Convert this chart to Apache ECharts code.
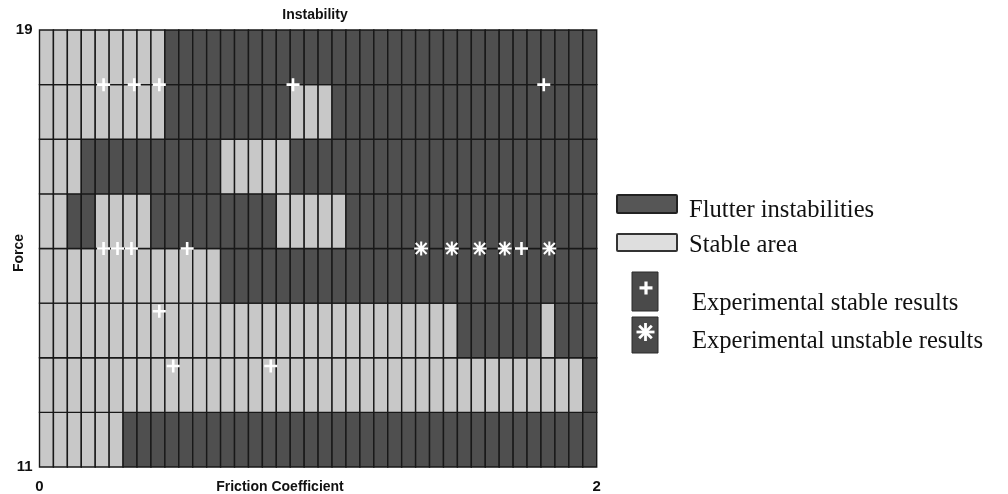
<!DOCTYPE html>
<html>
<head>
<meta charset="utf-8">
<title>Instability</title>
<script src="https://cdn.jsdelivr.net/npm/echarts@6/dist/echarts.min.js"></script>
<style>
  html, body { margin: 0; padding: 0; background: #ffffff; }
  #chart { width: 1008px; height: 494px; }
</style>
</head>
<body>
<div id="chart"></div>
<script>
// Stability map: friction coefficient (x, 0..2, 40 columns) against force (y, 11..19, 8 rows).
// 1 = flutter instability, 0 = stable area. One array per force band, listed from the lowest band up.
const frictionRange = [0, 2];
const forceRange = [11, 19];
const forceBands = [11, 12, 13, 14, 15, 16, 17, 18];

const band11 = [0,0,0,0,0,0,1,1,1,1, 1,1,1,1,1,1,1,1,1,1, 1,1,1,1,1,1,1,1,1,1, 1,1,1,1,1,1,1,1,1,1];
const band12 = [0,0,0,0,0,0,0,0,0,0, 0,0,0,0,0,0,0,0,0,0, 0,0,0,0,0,0,0,0,0,0, 0,0,0,0,0,0,0,0,0,1];
const band13 = [0,0,0,0,0,0,0,0,0,0, 0,0,0,0,0,0,0,0,0,0, 0,0,0,0,0,0,0,0,0,0, 1,1,1,1,1,1,0,1,1,1];
const band14 = [0,0,0,0,0,0,0,0,0,0, 0,0,0,1,1,1,1,1,1,1, 1,1,1,1,1,1,1,1,1,1, 1,1,1,1,1,1,1,1,1,1];
const band15 = [0,0,1,1,0,0,0,0,1,1, 1,1,1,1,1,1,1,0,0,0, 0,0,1,1,1,1,1,1,1,1, 1,1,1,1,1,1,1,1,1,1];
const band16 = [0,0,0,1,1,1,1,1,1,1, 1,1,1,0,0,0,0,0,1,1, 1,1,1,1,1,1,1,1,1,1, 1,1,1,1,1,1,1,1,1,1];
const band17 = [0,0,0,0,0,0,0,0,0,1, 1,1,1,1,1,1,1,1,0,0, 0,1,1,1,1,1,1,1,1,1, 1,1,1,1,1,1,1,1,1,1];
const band18 = [0,0,0,0,0,0,0,0,0,1, 1,1,1,1,1,1,1,1,1,1, 1,1,1,1,1,1,1,1,1,1, 1,1,1,1,1,1,1,1,1,1];
const bandStates = [band11, band12, band13, band14, band15, band16, band17, band18];

// Experimental points
const stableFriction = [0.23, 0.34, 0.43, 0.91, 1.81, 0.23, 0.28, 0.33, 0.53, 1.73, 0.43, 0.48, 0.83];
const stableForce    = [18,   18,   18,   18,   18,   15,   15,   15,   15,   15,   13.85, 12.85, 12.85];
const unstableFriction = [1.37, 1.48, 1.58, 1.67, 1.83];
const unstableForce    = [15,   15,   15,   15,   15];

const yTickLabels = ['11', '19'];
const xTickLabels = ['0', '2'];

const DARK = '#4f4f4f';
const LIGHT = '#c8c8c8';
const EDGE = '#181818';

const columnCount = band11.length;
const columnWidth = (frictionRange[1] - frictionRange[0]) / columnCount;

const cells = [];
bandStates.forEach(function (states, b) {
  states.forEach(function (s, i) {
    cells.push([frictionRange[0] + i * columnWidth, forceBands[b], s]);
  });
});

const stablePoints = stableFriction.map(function (x, i) { return [x, stableForce[i]]; });
const unstablePoints = unstableFriction.map(function (x, i) { return [x, unstableForce[i]]; });

const PLUS = 'path://M8,0H12V8H20V12H12V20H8V12H0V8H8Z';
const STAR = 'path://M0,8.5H20V11.5H0Z M8.5,0H11.5V20H8.5Z M1.2,3.3L3.3,1.2L18.8,16.7L16.7,18.8Z M16.7,1.2L18.8,3.3L3.3,18.8L1.2,16.7Z';

const labelFont = { fontFamily: 'Liberation Sans, Arial, sans-serif', fontWeight: 'bold', fontSize: 14, fill: '#111' };
const legendFont = { fontFamily: 'Liberation Serif, Times New Roman, serif', fontSize: 24.6, fill: '#111' };

const chart = echarts.init(document.getElementById('chart'), null, { renderer: 'canvas' });

chart.setOption({
  animation: false,
  backgroundColor: '#ffffff',
  grid: { left: 39.5, right: 411.3, top: 30, bottom: 25, containLabel: false },
  xAxis: {
    type: 'value', min: frictionRange[0], max: frictionRange[1], interval: 2,
    axisLine: { show: false }, axisTick: { show: false }, splitLine: { show: false },
    axisLabel: {
      margin: 12, fontSize: 15, fontWeight: 'bold', color: '#111', fontFamily: 'Liberation Sans, Arial, sans-serif',
      formatter: function (v) { return xTickLabels.indexOf(String(v)) >= 0 ? String(v) : ''; }
    }
  },
  yAxis: {
    type: 'value', min: forceRange[0], max: forceRange[1], interval: 1,
    axisLine: { show: false }, axisTick: { show: false }, splitLine: { show: false },
    axisLabel: {
      margin: 7, fontSize: 15, fontWeight: 'bold', color: '#111', fontFamily: 'Liberation Sans, Arial, sans-serif',
      formatter: function (v) { return yTickLabels.indexOf(String(v)) >= 0 ? String(v) : ''; }
    }
  },
  series: [
    {
      type: 'custom',
      data: cells,
      renderItem: function (params, api) {
        const x0 = api.value(0), y0 = api.value(1);
        const tl = api.coord([x0, y0 + 1]);
        const br = api.coord([x0 + columnWidth, y0]);
        return {
          type: 'rect',
          shape: { x: tl[0], y: tl[1], width: br[0] - tl[0], height: br[1] - tl[1] },
          style: { fill: api.value(2) ? DARK : LIGHT, stroke: EDGE, lineWidth: 1.4 }
        };
      },
      z: 1
    },
    {
      type: 'scatter', data: stablePoints, symbol: PLUS, symbolSize: 13,
      itemStyle: { color: '#ffffff', opacity: 1 }, z: 5
    },
    {
      type: 'scatter', data: unstablePoints, symbol: STAR, symbolSize: 14,
      itemStyle: { color: '#ffffff', opacity: 1 }, z: 5
    }
  ],
  graphic: [
    { type: 'text', x: 315, y: 15, style: Object.assign({ text: 'Instability', align: 'center', verticalAlign: 'middle' }, labelFont) },
    { type: 'text', x: 280, y: 487, style: Object.assign({ text: 'Friction Coefficient', align: 'center', verticalAlign: 'middle' }, labelFont) },
    { type: 'text', x: 19, y: 253, rotation: Math.PI / 2, style: Object.assign({ text: 'Force', align: 'center', verticalAlign: 'middle' }, labelFont) },

    // legend
    { type: 'rect', shape: { x: 617, y: 195, width: 60, height: 18, r: 1 }, style: { fill: '#565656', stroke: '#222', lineWidth: 2 } },
    { type: 'text', x: 689, y: 211, style: Object.assign({ text: 'Flutter instabilities', verticalAlign: 'middle' }, legendFont) },
    { type: 'rect', shape: { x: 617, y: 234, width: 60, height: 17, r: 1 }, style: { fill: '#dedede', stroke: '#333', lineWidth: 2 } },
    { type: 'text', x: 689, y: 246, style: Object.assign({ text: 'Stable area', verticalAlign: 'middle' }, legendFont) },

    { type: 'rect', shape: { x: 632, y: 272, width: 26, height: 39 }, style: { fill: '#4a4a4a', stroke: '#2a2a2a', lineWidth: 1 } },
    { type: 'rect', shape: { x: 639.5, y: 286.3, width: 13, height: 3.2 }, style: { fill: '#ffffff' } },
    { type: 'rect', shape: { x: 644.4, y: 281.5, width: 3.2, height: 13 }, style: { fill: '#ffffff' } },
    { type: 'text', x: 692, y: 304, style: Object.assign({ text: 'Experimental stable results', verticalAlign: 'middle' }, legendFont) },

    { type: 'rect', shape: { x: 632, y: 317, width: 26, height: 36 }, style: { fill: '#4a4a4a', stroke: '#2a2a2a', lineWidth: 1 } },
    { type: 'line', shape: { x1: 636.5, y1: 332, x2: 654.5, y2: 332 }, style: { stroke: '#ffffff', lineWidth: 2.8 } },
    { type: 'line', shape: { x1: 645.5, y1: 323, x2: 645.5, y2: 341 }, style: { stroke: '#ffffff', lineWidth: 2.8 } },
    { type: 'line', shape: { x1: 639.2, y1: 325.7, x2: 651.8, y2: 338.3 }, style: { stroke: '#ffffff', lineWidth: 2.8 } },
    { type: 'line', shape: { x1: 651.8, y1: 325.7, x2: 639.2, y2: 338.3 }, style: { stroke: '#ffffff', lineWidth: 2.8 } },
    { type: 'text', x: 692, y: 342, style: Object.assign({ text: 'Experimental unstable results', verticalAlign: 'middle' }, legendFont) }
  ]
});
</script>
</body>
</html>
